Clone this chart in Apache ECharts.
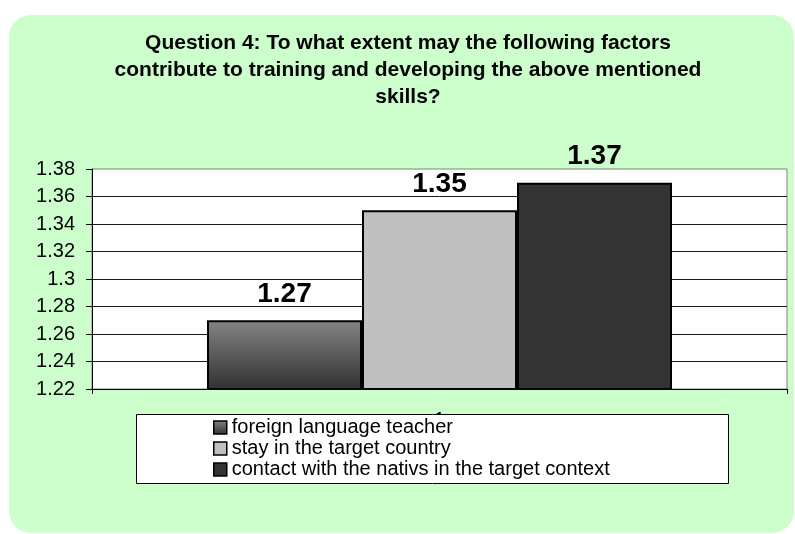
<!DOCTYPE html>
<html lang="en">

<head>
    <meta charset="UTF-8">
    <title>Question 4</title>
    <script src="https://cdn.jsdelivr.net/npm/echarts@6/dist/echarts.min.js"></script>
</head>
<style>
    body {
        margin: 0;
        background: #fff;
    }

    .panel {
        position: absolute;
        left: 9px;
        top: 15px;
        width: 785px;
        height: 518px;
        border-radius: 22px;
        background: #ccffcc;
    }

    #chart {
        position: absolute;
        left: 0;
        top: 0;
        width: 795px;
        height: 534px;
    }
</style>

<body>
    <div class="panel"></div>
    <div id="chart"></div>
    <script>
        var categories = ['1'];
        var seriesNames = ['foreign language teacher', 'stay in the target country', 'contact with the nativs in the target context'];
        var seriesValues = [1.27, 1.35, 1.37];
        var yTicks = { min: 1.22, max: 1.38, step: 0.02 };

        var fills = [
            new echarts.graphic.LinearGradient(0, 0, 0, 1, [
                { offset: 0, color: '#848484' },
                { offset: 1, color: '#303030' }
            ]),
            '#c0c0c0',
            '#333333'
        ];

        var chart = echarts.init(document.getElementById('chart'));

        var series = seriesNames.map(function (name, i) {
            return {
                name: name,
                type: 'bar',
                barWidth: 155,
                barGap: '0%',
                data: [seriesValues[i]],
                itemStyle: {
                    color: fills[i],
                    borderColor: '#000',
                    borderWidth: 2
                },
                label: {
                    show: true,
                    position: 'top',
                    distance: 12,
                    color: '#000',
                    fontFamily: 'Arial, Liberation Sans',
                    fontWeight: 'bold',
                    fontSize: 28
                }
            };
        });

        var option = {
            animation: false,
            title: {
                text: 'Question 4: To what extent may the following factors\ncontribute to training and developing the above mentioned\nskills?',
                left: 408,
                top: 30,
                padding: 0,
                textAlign: 'center',
                textStyle: {
                    fontFamily: 'Arial, Liberation Sans',
                    fontWeight: 'bold',
                    fontSize: 21,
                    lineHeight: 27,
                    color: '#000'
                }
            },
            grid: {
                left: 92,
                right: 8,
                top: 169,
                bottom: 145,
                show: true,
                backgroundColor: '#fff',
                borderColor: '#808080',
                borderWidth: 1
            },
            graphic: [{
                type: 'rect',
                z: 50,
                shape: { x: 136.5, y: 414.5, width: 592, height: 69 },
                style: { fill: '#fff', stroke: '#000', lineWidth: 1 }
            }],
            legend: {
                z: 60,
                orient: 'vertical',
                left: 213,
                top: 417,
                padding: 0,
                itemGap: 0,
                itemWidth: 13,
                itemHeight: 13,
                icon: 'rect',
                itemStyle: { borderColor: '#000', borderWidth: 1.5 },
                textStyle: {
                    fontFamily: 'Arial, Liberation Sans',
                    fontSize: 20,
                    lineHeight: 21,
                    color: '#000'
                },
                data: seriesNames
            },
            xAxis: {
                type: 'category',
                data: categories,
                axisLine: { lineStyle: { color: '#000', width: 1 } },
                axisTick: { show: true, length: 5, lineStyle: { color: '#000' } },
                axisLabel: {
                    margin: 21,
                    color: '#000',
                    fontFamily: 'Arial, Liberation Sans',
                    fontSize: 19
                }
            },
            yAxis: {
                type: 'value',
                min: yTicks.min,
                max: yTicks.max,
                interval: yTicks.step,
                axisLine: { show: true, lineStyle: { color: '#000', width: 1 } },
                axisTick: { show: true, length: 6, lineStyle: { color: '#000' } },
                axisLabel: {
                    margin: 17,
                    color: '#000',
                    fontFamily: 'Arial, Liberation Sans',
                    fontSize: 20
                },
                splitLine: {
                    showMaxLine: false,
                    lineStyle: { color: '#1a1a1a', width: 1 }
                }
            },
            series: series
        };

        chart.setOption(option);
    </script>
</body>
</html>
